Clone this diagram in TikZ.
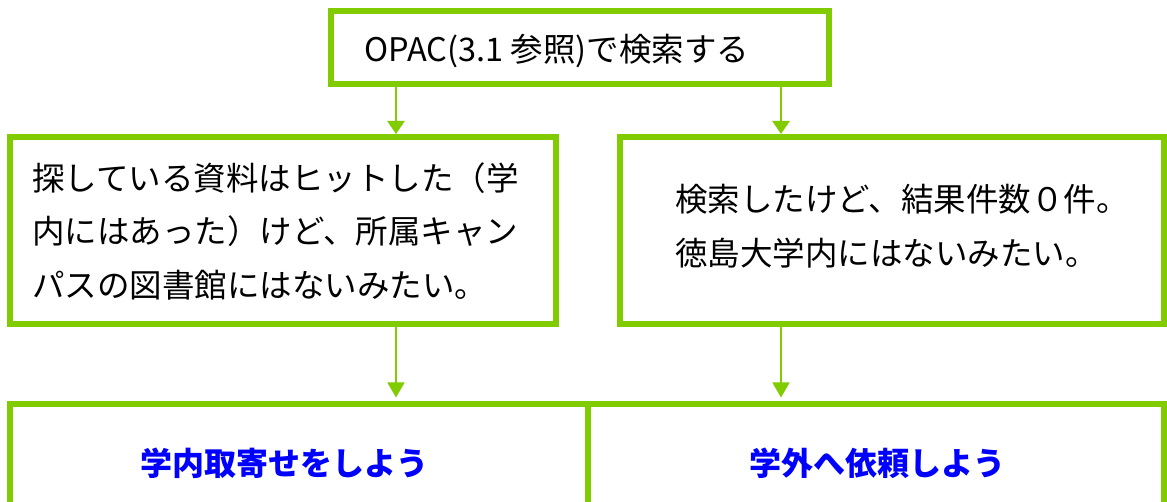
\documentclass[tikz,border=0pt]{standalone}
\usepackage{fontspec}
\newfontfamily\jp{Noto Sans CJK JP}
\usetikzlibrary{arrows.meta}
\definecolor{grn}{RGB}{128,204,0}
\definecolor{blu}{RGB}{0,0,255}
\tikzset{
 gbox/.style={draw=grn, line width=6pt, inner sep=0pt, rectangle},
 txt/.style={font=\jp\fontsize{32.5}{53.5}\selectfont, text=black, inner sep=0pt, anchor=west, align=left},
 act/.style={font=\jp\bfseries\fontsize{32}{38}\selectfont, text=blu, inner sep=0pt},
 arrA/.style={draw=grn, line width=2.5pt, -{Triangle[width=17pt,length=13pt]}},
 arrB/.style={draw=grn, line width=1.5pt, shorten >=3pt, -{Triangle[width=17pt,length=15pt]}},
}
\begin{document}
\begin{tikzpicture}[x=1pt,y=-1pt]
\useasboundingbox (0,0) rectangle (1167,502);
\clip (0,0) rectangle (1167,502);
\fill[white] (0,0) rectangle (1167,502);
% boxes
\node[gbox, minimum width=498pt, minimum height=73pt] (top) at (580,47.5) {};
\node[gbox, minimum width=546pt, minimum height=187pt] (left) at (283,230.5) {};
\node[gbox, minimum width=544pt, minimum height=187pt] (right) at (892,230.5) {};
\node[gbox, minimum width=578pt, minimum height=141.5pt] (bl) at (299,474.25) {};
\node[gbox, minimum width=576pt, minimum height=141.5pt] (br) at (876,474.25) {};
% texts
\node[txt] (toptext) at (364,51) {OPAC(3.1 参照)で検索する};
\node[txt] (lefttext) at (32,231) {探している資料はヒットした（学\\内にはあった）けど、所属キャン\\パスの図書館にはないみたい。};
\node[txt] (righttext) at (675,226) {検索したけど、結果件数０件。\\徳島大学内にはないみたい。};
\node[act] (bltext) at (284,463) {学内取寄せをしよう};
\node[act] (brtext) at (877,463) {学外へ依頼しよう};
% arrows
\coordinate (xa) at (396,0);
\coordinate (xb) at (781,0);
\draw[arrA] (top.south -| xa) -- (left.north -| xa);
\draw[arrA] (top.south -| xb) -- (right.north -| xb);
\draw[arrB] (left.south -| xa) -- (bl.north -| xa);
\draw[arrB] (right.south -| xb) -- (br.north -| xb);
\end{tikzpicture}
\end{document}
